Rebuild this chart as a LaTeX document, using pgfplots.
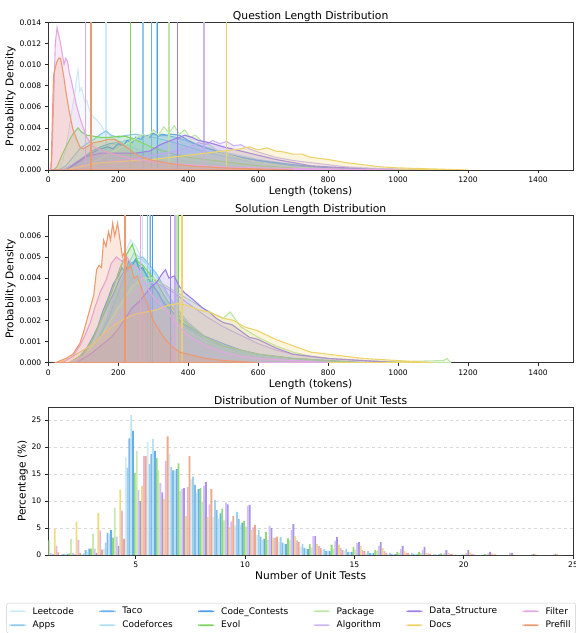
\documentclass[border=0pt]{standalone}
\usepackage{pgfplots}
\pgfplotsset{compat=1.18}
\usepackage{pgfplotstable}
\usepackage{fontspec}
\setmainfont{DejaVu Sans}

\definecolor{cLe}{HTML}{CDE9F6}
\definecolor{cAp}{HTML}{8EC9EB}
\definecolor{cTa}{HTML}{6AB0E8}
\definecolor{cCf}{HTML}{AEDCF2}
\definecolor{cCc}{HTML}{4A9EE6}
\definecolor{cEv}{HTML}{7DD35E}
\definecolor{cPa}{HTML}{BFE5A8}
\definecolor{cAl}{HTML}{CBB6F2}
\definecolor{cDs}{HTML}{9E80E6}
\definecolor{cDo}{HTML}{EDD36A}
\definecolor{cFi}{HTML}{E3A8E1}
\definecolor{cPr}{HTML}{EC9A72}

\pgfplotstableread{
n  Le   Ap   Ta   Cf   Cc   Ev   Pa   Al   Ds   Do   Fi   Pr
1  0    0    0    0    0    0.3  2.7  0.3  0.1  4.8  1.7  0.5
2  0    0.1  0.2  0.1  0.2  0.3  3.0  0.4  0.1  6.2  2.8  0.4
3  0.1  0.3  0.9  0.6  1.2  1.2  3.9  1.2  0.4  7.8  4.5  1.0
4  1.2  2.3  4.1  3.9  4.6  3.2  8.8  3.4  1.7  12.1 8.2  3.0
5  18.2 16.2 21.6 25.9 23.0 15.2 19.3 12.0 10.0 12.8 18.3 18.3
6  20.9 16.9 18.7 21.5 19.3 18.0 15.7 13.3 11.6 10.4 17.4 22.0
7  18.8 16.3 15.7 15.7 15.9 17.0 11.9 12.2 12.4 7.2  12.6 18.3
8  14.0 14.5 13.0 11.5 12.2 12.4 9.9  12.8 13.5 7.0  9.4  12.2
9  7.0  10.2 8.3  6.8  7.7  8.6  6.4  9.7  9.4  5.2  6.2  7.2
10 5.5  8.0  6.7  5.5  6.0  6.3  5.2  9.1  9.3  4.6  5.1  5.6
11 3.7  4.6  3.4  2.8  3.0  4.3  2.8  5.4  5.0  3.2  3.2  3.4
12 2.5  3.3  2.3  2.1  2.0  3.1  2.7  4.6  5.7  3.5  2.7  2.4
13 1.5  2.0  1.3  1.2  1.1  2.0  1.4  3.5  3.5  2.0  1.7  1.3
14 0.9  1.1  0.7  0.8  0.7  1.9  1.2  2.6  3.3  1.9  1.3  0.9
15 0.7  1.1  0.6  0.5  0.6  1.5  1.0  2.2  2.4  1.7  0.9  0.7
16 0.4  0.7  0.4  0.3  0.4  0.9  0.8  1.7  2.4  1.3  0.7  0.4
17 0.2  0.4  0.2  0.1  0.2  0.6  0.4  1.1  1.7  0.7  0.4  0.4
18 0.1  0.4  0.2  0.1  0.1  0.6  0.3  0.9  1.5  0.4  0.3  0.2
19 0    0.1  0.1  0    0.1  0.3  0.2  0.4  0.9  0.4  0.2  0.2
20 0    0.1  0    0    0    0.1  0.1  0.4  0.9  0.5  0.2  0.1
21 0    0    0    0    0    0.2  0.1  0.3  0.6  0.3  0.1  0.1
22 0    0    0    0    0    0    0    0.4  0.4  0.1  0    0
23 0    0    0    0    0    0    0    0.1  0.2  0.2  0    0
24 0    0    0    0    0    0    0    0.1  0.2  0.2  0    0
}\bars

\newcommand{\dens}[2]{\addplot[draw=#1, line width=1.1pt, fill=#1, fill opacity=0.22] coordinates {#2} \closedcycle;}
\newcommand{\mline}[3]{\addplot[#1, line width=1.3pt] coordinates {(#2,0) (#2,#3)};}
% colour, column, shift, legend text
\newcommand{\tbar}[4]{\addplot[ybar, bar width=0.0833, bar shift=#3, fill=#1, fill opacity=0.85, draw=none,
  legend image code/.code={\fill[fill=#1, fill opacity=1] (0pt,-0.85pt) rectangle (16pt,0.85pt);}] table[x=n, y=#2] {\bars};
  \addlegendentry{#4}}

\pgfplotsset{
  every axis/.append style={
    scale only axis, width=524.7pt, height=147.6pt,
    axis line style={black!80, line width=0.7pt},
    tick align=outside, tick pos=left,
    major tick length=3.5pt,
    tick style={black!85, line width=0.6pt},
    tick label style={font=\fontsize{7.6}{9}\selectfont},
    label style={font=\fontsize{10.6}{12}\selectfont},
    xlabel style={yshift=3pt},
    ylabel style={yshift=-3pt},
    title style={font=\fontsize{10.8}{12}\selectfont, at={(0.5,1)}, anchor=south, yshift=-8pt, inner sep=2pt, text depth=0.24em},
    /pgf/number format/assume math mode=true,
    /pgf/number format/1000 sep={},
    scaled y ticks=false,
  }
}

\begin{document}
\begin{tikzpicture}
\useasboundingbox (0,0) rectangle (576pt,633pt);

% ---------------- Question length ----------------
\begin{axis}[at={(48.3pt,463pt)}, anchor=south west,
  xmin=0, xmax=1500, ymin=0, ymax=0.014,
  xtick={0,200,...,1400}, ytick={0,0.002,...,0.014},
  yticklabel style={/pgf/number format/.cd, fixed, fixed zerofill, precision=3},
  title={Question Length Distribution},
  xlabel={Length (tokens)}, ylabel={Probability Density}]
\dens{cLe}{(30,0) (40,0.0008) (50,0.0020) (60,0.0040) (70,0.0062) (75,0.0070) (80,0.0085) (85,0.0095) (90,0.0075) (95,0.0078) (100,0.0071) (105,0.0064) (110,0.0066) (115,0.0060) (120,0.0055) (130,0.0050) (140,0.0047) (150,0.0043) (160,0.0037) (170,0.0035) (180,0.0031) (200,0.0028) (225,0.0024) (250,0.0020) (300,0.0015) (350,0.0011) (400,0.0008) (450,0.0006) (500,0.0004) (600,0.0002) (700,0.0001) (800,0)}
\mline{cLe}{165}{0.014}
\dens{cAp}{(30,0) (50,0.0004) (70,0.0012) (90,0.0020) (110,0.0025) (130,0.0029) (150,0.0034) (165,0.0037) (180,0.0033) (200,0.0031) (225,0.0033) (250,0.0034) (275,0.0032) (300,0.0031) (325,0.0029) (350,0.0027) (400,0.0022) (450,0.0017) (500,0.0013) (550,0.0010) (600,0.0007) (700,0.0004) (800,0.0002) (900,0.0001) (1000,0)}
\mline{cAp}{271}{0.014}
\dens{cTa}{(40,0) (70,0.0005) (100,0.0012) (125,0.0018) (150,0.0022) (175,0.0025) (200,0.0026) (225,0.0028) (250,0.0030) (275,0.0032) (300,0.0034) (325,0.0033) (350,0.0032) (375,0.0030) (400,0.0027) (450,0.0021) (500,0.0016) (550,0.0012) (600,0.0009) (700,0.0004) (800,0.0002) (900,0.0001) (1000,0)}
\mline{cTa}{295}{0.014}
\dens{cCf}{(40,0) (80,0.0006) (120,0.0014) (160,0.0021) (200,0.0026) (250,0.0030) (300,0.0033) (350,0.0031) (400,0.0027) (450,0.0022) (500,0.0017) (600,0.0010) (700,0.0005) (800,0.0002) (900,0.0001) (1000,0)}
\mline{cCf}{310}{0.014}
\dens{cCc}{(50,0) (80,0.0006) (110,0.0013) (140,0.0019) (170,0.0022) (185,0.0020) (200,0.0025) (215,0.0023) (225,0.0028) (240,0.0026) (250,0.0031) (265,0.0029) (275,0.0033) (290,0.0031) (300,0.0035) (315,0.0032) (325,0.0034) (340,0.0033) (350,0.0034) (375,0.0033) (400,0.0028) (425,0.0024) (450,0.0021) (500,0.0016) (550,0.0012) (600,0.0009) (700,0.0005) (800,0.0002) (900,0.0001) (1000,0)}
\mline{cCc}{313}{0.014}
\dens{cEv}{(15,0) (25,0.0003) (40,0.0015) (55,0.0025) (70,0.0034) (85,0.0040) (95,0.0036) (110,0.0033) (130,0.0032) (150,0.0031) (175,0.0031) (200,0.0032) (220,0.0032) (240,0.0030) (260,0.0027) (280,0.0024) (300,0.0021) (330,0.0018) (360,0.0015) (400,0.0012) (450,0.0010) (500,0.0008) (550,0.0006) (600,0.0004) (700,0.0002) (800,0.0001) (900,0)}
\mline{cEv}{235}{0.014}
\dens{cPa}{(80,0) (120,0.0006) (160,0.0013) (200,0.0020) (225,0.0025) (250,0.0030) (270,0.0034) (285,0.0031) (300,0.0038) (315,0.0033) (330,0.0041) (345,0.0035) (360,0.0042) (375,0.0034) (390,0.0038) (405,0.0031) (420,0.0033) (440,0.0027) (460,0.0024) (480,0.0019) (500,0.0016) (550,0.0011) (600,0.0007) (700,0.0003) (800,0.0001) (900,0)}
\mline{cPa}{345}{0.014}
\dens{cAl}{(50,0) (100,0.0004) (150,0.0007) (200,0.0009) (250,0.0011) (300,0.0014) (350,0.0017) (400,0.0021) (430,0.0026) (450,0.0024) (470,0.0028) (490,0.0025) (510,0.0027) (530,0.0023) (550,0.0024) (575,0.0020) (600,0.0017) (650,0.0012) (700,0.0009) (750,0.0007) (800,0.0005) (850,0.0003) (900,0.0002) (1000,0.0001) (1100,0)}
\mline{cAl}{445}{0.014}
\dens{cDs}{(50,0) (80,0.0007) (110,0.0013) (150,0.0016) (200,0.0016) (250,0.0016) (290,0.0018) (320,0.0024) (350,0.0028) (375,0.0031) (390,0.0033) (410,0.0031) (430,0.0028) (460,0.0026) (500,0.0022) (550,0.0018) (600,0.0014) (650,0.0010) (700,0.0007) (750,0.0004) (800,0.0003) (900,0.0001) (1000,0)}
\mline{cDs}{370}{0.014}
\dens{cDo}{(50,0) (100,0.0004) (150,0.0007) (200,0.0008) (250,0.0009) (300,0.0010) (350,0.0012) (400,0.0014) (450,0.0016) (500,0.0018) (550,0.0020) (575,0.0022) (600,0.0019) (625,0.0021) (650,0.0018) (675,0.0017) (700,0.0015) (725,0.0015) (750,0.0012) (800,0.0010) (850,0.0007) (900,0.0005) (950,0.0003) (1000,0.0002) (1100,0.0001) (1200,0)}
\mline{cDo}{510}{0.014}
\dens{cFi}{(5,0) (10,0.0010) (15,0.0060) (20,0.0120) (25,0.0135) (30,0.0128) (35,0.0120) (40,0.0110) (45,0.0100) (50,0.0106) (55,0.0103) (60,0.0092) (65,0.0086) (70,0.0078) (80,0.0062) (90,0.0050) (100,0.0040) (110,0.0031) (120,0.0026) (130,0.0022) (150,0.0019) (175,0.0016) (200,0.0014) (250,0.0010) (300,0.0008) (350,0.0006) (400,0.0005) (500,0.0003) (600,0.0002) (800,0.0001) (1000,0)}
\mline{cFi}{107}{0.014}
\dens{cPr}{(8,0) (10,0.0027) (15,0.0090) (20,0.0097) (25,0.0103) (30,0.0106) (35,0.0106) (40,0.0097) (45,0.0087) (50,0.0075) (55,0.0065) (60,0.0055) (70,0.0039) (80,0.0030) (90,0.0022) (100,0.0020) (110,0.0022) (130,0.0026) (150,0.0027) (170,0.0029) (190,0.0029) (210,0.0025) (230,0.0020) (250,0.0015) (270,0.0012) (300,0.0009) (350,0.0006) (400,0.0004) (500,0.0002) (600,0.0001) (700,0)}
\mline{cPr}{122}{0.014}
\end{axis}

% ---------------- Solution length ----------------
\begin{axis}[at={(48.3pt,270.3pt)}, anchor=south west,
  xmin=0, xmax=1500, ymin=0, ymax=0.00698,
  xtick={0,200,...,1400}, ytick={0,0.001,...,0.006},
  yticklabel style={/pgf/number format/.cd, fixed, fixed zerofill, precision=3},
  title={Solution Length Distribution},
  xlabel={Length (tokens)}, ylabel={Probability Density}]
\dens{cLe}{(60,0) (100,0.0003) (130,0.0008) (150,0.0014) (170,0.0022) (190,0.0033) (205,0.0042) (220,0.0052) (235,0.0058) (250,0.0055) (265,0.0050) (280,0.0047) (295,0.0042) (310,0.0038) (330,0.0032) (350,0.0025) (375,0.0019) (400,0.0014) (450,0.0009) (500,0.0006) (550,0.0004) (600,0.0002) (700,0.0001) (800,0)}
\mline{cLe}{270}{0.00698}
\dens{cAp}{(60,0) (100,0.0002) (140,0.0010) (170,0.0020) (200,0.0033) (225,0.0044) (250,0.0049) (270,0.0050) (290,0.0046) (310,0.0042) (330,0.0036) (350,0.0030) (375,0.0024) (400,0.0019) (450,0.0012) (500,0.0008) (550,0.0005) (600,0.0003) (700,0.0001) (800,0)}
\mline{cAp}{284}{0.00698}
\dens{cTa}{(60,0) (90,0.0003) (110,0.0007) (130,0.0013) (150,0.0020) (170,0.0027) (190,0.0034) (205,0.0040) (220,0.0044) (235,0.0047) (250,0.0048) (265,0.0045) (280,0.0042) (300,0.0037) (320,0.0031) (340,0.0027) (360,0.0023) (380,0.0019) (400,0.0016) (430,0.0013) (460,0.0010) (500,0.0008) (550,0.0006) (600,0.0004) (700,0.0002) (800,0.0001) (900,0)}
\mline{cTa}{293}{0.00698}
\dens{cCf}{(60,0) (100,0.0003) (140,0.0011) (170,0.0021) (200,0.0034) (225,0.0045) (245,0.0052) (260,0.0050) (280,0.0047) (300,0.0043) (320,0.0038) (340,0.0032) (360,0.0027) (380,0.0022) (400,0.0018) (450,0.0011) (500,0.0007) (550,0.0005) (600,0.0003) (700,0.0001) (800,0)}
\mline{cCf}{290}{0.00698}
\dens{cCc}{(70,0) (100,0.0004) (120,0.0009) (140,0.0016) (155,0.0024) (170,0.0030) (185,0.0037) (200,0.0041) (210,0.0045) (220,0.0043) (230,0.0048) (240,0.0046) (250,0.0049) (260,0.0044) (270,0.0045) (285,0.0040) (300,0.0036) (315,0.0033) (330,0.0028) (350,0.0025) (370,0.0021) (390,0.0018) (410,0.0016) (440,0.0013) (470,0.0011) (500,0.0009) (550,0.0006) (600,0.0004) (700,0.0002) (800,0.0001) (900,0)}
\mline{cCc}{298}{0.00698}
\dens{cEv}{(60,0) (100,0.0004) (130,0.0012) (160,0.0024) (185,0.0035) (205,0.0045) (220,0.0050) (240,0.0056) (255,0.0048) (270,0.0046) (290,0.0042) (310,0.0038) (330,0.0032) (350,0.0027) (375,0.0022) (400,0.0018) (450,0.0012) (500,0.0008) (550,0.0006) (600,0.0004) (700,0.0002) (800,0.0001) (900,0)}
\mline{cEv}{373}{0.00698}
\dens{cPa}{(60,0) (100,0.0003) (150,0.0012) (200,0.0026) (240,0.0036) (270,0.0040) (300,0.0040) (330,0.0037) (360,0.0034) (400,0.0030) (450,0.0025) (500,0.0021) (520,0.0024) (550,0.0017) (600,0.0012) (650,0.0008) (700,0.0005) (750,0.0003) (800,0.0002) (900,0.0001) (1000,0.00005) (1130,0.0001) (1140,0.0002) (1150,0)}
\mline{cPa}{368}{0.00698}
\dens{cAl}{(60,0) (100,0.0003) (150,0.0010) (200,0.0022) (240,0.0032) (270,0.0037) (300,0.0038) (330,0.0036) (360,0.0033) (400,0.0028) (450,0.0022) (500,0.0017) (550,0.0013) (600,0.0009) (650,0.0006) (700,0.0004) (800,0.0002) (900,0.0001) (1000,0)}
\mline{cAl}{362}{0.00698}
\dens{cDs}{(80,0) (120,0.0004) (150,0.0008) (180,0.0012) (200,0.0016) (220,0.0021) (240,0.0026) (260,0.0029) (280,0.0033) (295,0.0036) (310,0.0038) (325,0.0042) (335,0.0044) (345,0.0040) (360,0.0041) (375,0.0036) (390,0.0033) (405,0.0031) (420,0.0029) (440,0.0026) (460,0.0024) (480,0.0021) (500,0.0019) (525,0.0018) (550,0.0015) (575,0.0012) (600,0.0011) (650,0.0007) (700,0.0004) (750,0.0003) (800,0.0002) (900,0.0001) (1000,0)}
\mline{cDs}{350}{0.00698}
\dens{cDo}{(30,0) (60,0.0002) (80,0.0004) (100,0.0006) (130,0.0009) (160,0.0014) (190,0.0018) (220,0.0021) (250,0.0023) (280,0.0024) (310,0.0025) (340,0.0027) (370,0.0028) (400,0.0027) (430,0.0025) (460,0.0024) (500,0.0021) (530,0.0020) (560,0.0017) (600,0.0015) (650,0.0011) (700,0.0008) (750,0.0005) (800,0.0004) (850,0.0003) (900,0.0002) (1000,0.0001) (1100,0)}
\mline{cDo}{382}{0.00698}
\dens{cFi}{(40,0) (70,0.0003) (90,0.0008) (105,0.0013) (120,0.0019) (135,0.0027) (150,0.0034) (165,0.0039) (180,0.0047) (195,0.0050) (210,0.0048) (225,0.0050) (240,0.0046) (255,0.0045) (270,0.0040) (285,0.0035) (300,0.0031) (320,0.0028) (340,0.0024) (360,0.0020) (380,0.0016) (400,0.0013) (450,0.0008) (500,0.0005) (550,0.0003) (600,0.0002) (700,0.0001) (800,0)}
\mline{cFi}{264}{0.00698}
\dens{cPr}{(20,0) (50,0.0002) (70,0.0004) (90,0.0009) (100,0.0014) (110,0.0020) (120,0.0026) (130,0.0032) (138,0.0044) (145,0.0046) (152,0.0045) (158,0.0058) (165,0.0055) (172,0.0062) (178,0.0058) (184,0.0066) (190,0.0060) (198,0.0066) (205,0.0058) (212,0.0050) (220,0.0053) (228,0.0044) (236,0.0046) (245,0.0040) (255,0.0041) (265,0.0036) (275,0.0031) (285,0.0027) (300,0.0020) (315,0.0016) (330,0.0012) (350,0.0008) (375,0.0005) (400,0.0004) (450,0.0002) (500,0.0001) (600,0)}
\mline{cPr}{219}{0.00698}
\end{axis}

% ---------------- Unit tests ----------------
\begin{axis}[at={(48.3pt,78pt)}, anchor=south west,
  xmin=1, xmax=25, ymin=0, ymax=27.35,
  xtick={5,10,15,20,25}, ytick={0,5,...,25},
  ymajorgrids, grid style={dashed, black!15, line width=0.5pt},
  title={Distribution of Number of Unit Tests},
  xlabel={Number of Unit Tests}, ylabel={Percentage (\%)},
  legend style={at={(-0.0797,-0.325)}, anchor=north west, draw=black!20, rounded corners=2pt,
    font=\fontsize{9}{10}\selectfont, inner xsep=3pt, inner ysep=2pt,
    /tikz/every even column/.append style={column sep=23.5pt},
    /tikz/every odd column/.append style={column sep=5pt}, row sep=1.5pt},
  legend columns=6, legend cell align=left]
% plotted in the legend's row order (bars do not overlap, so the order only sets the legend)
\tbar{cLe}{Le}{-0.4583}{Leetcode}
\tbar{cTa}{Ta}{-0.2917}{Taco}
\tbar{cCc}{Cc}{-0.1250}{Code\_Contests}
\tbar{cPa}{Pa}{0.0417}{Package}
\tbar{cDs}{Ds}{0.2083}{Data\_Structure}
\tbar{cFi}{Fi}{0.3750}{Filter}
\tbar{cAp}{Ap}{-0.3750}{Apps}
\tbar{cCf}{Cf}{-0.2083}{Codeforces}
\tbar{cEv}{Ev}{-0.0417}{Evol}
\tbar{cAl}{Al}{0.1250}{Algorithm}
\tbar{cDo}{Do}{0.2917}{Docs}
\tbar{cPr}{Pr}{0.4583}{Prefill}
\end{axis}
\end{tikzpicture}
\end{document}
